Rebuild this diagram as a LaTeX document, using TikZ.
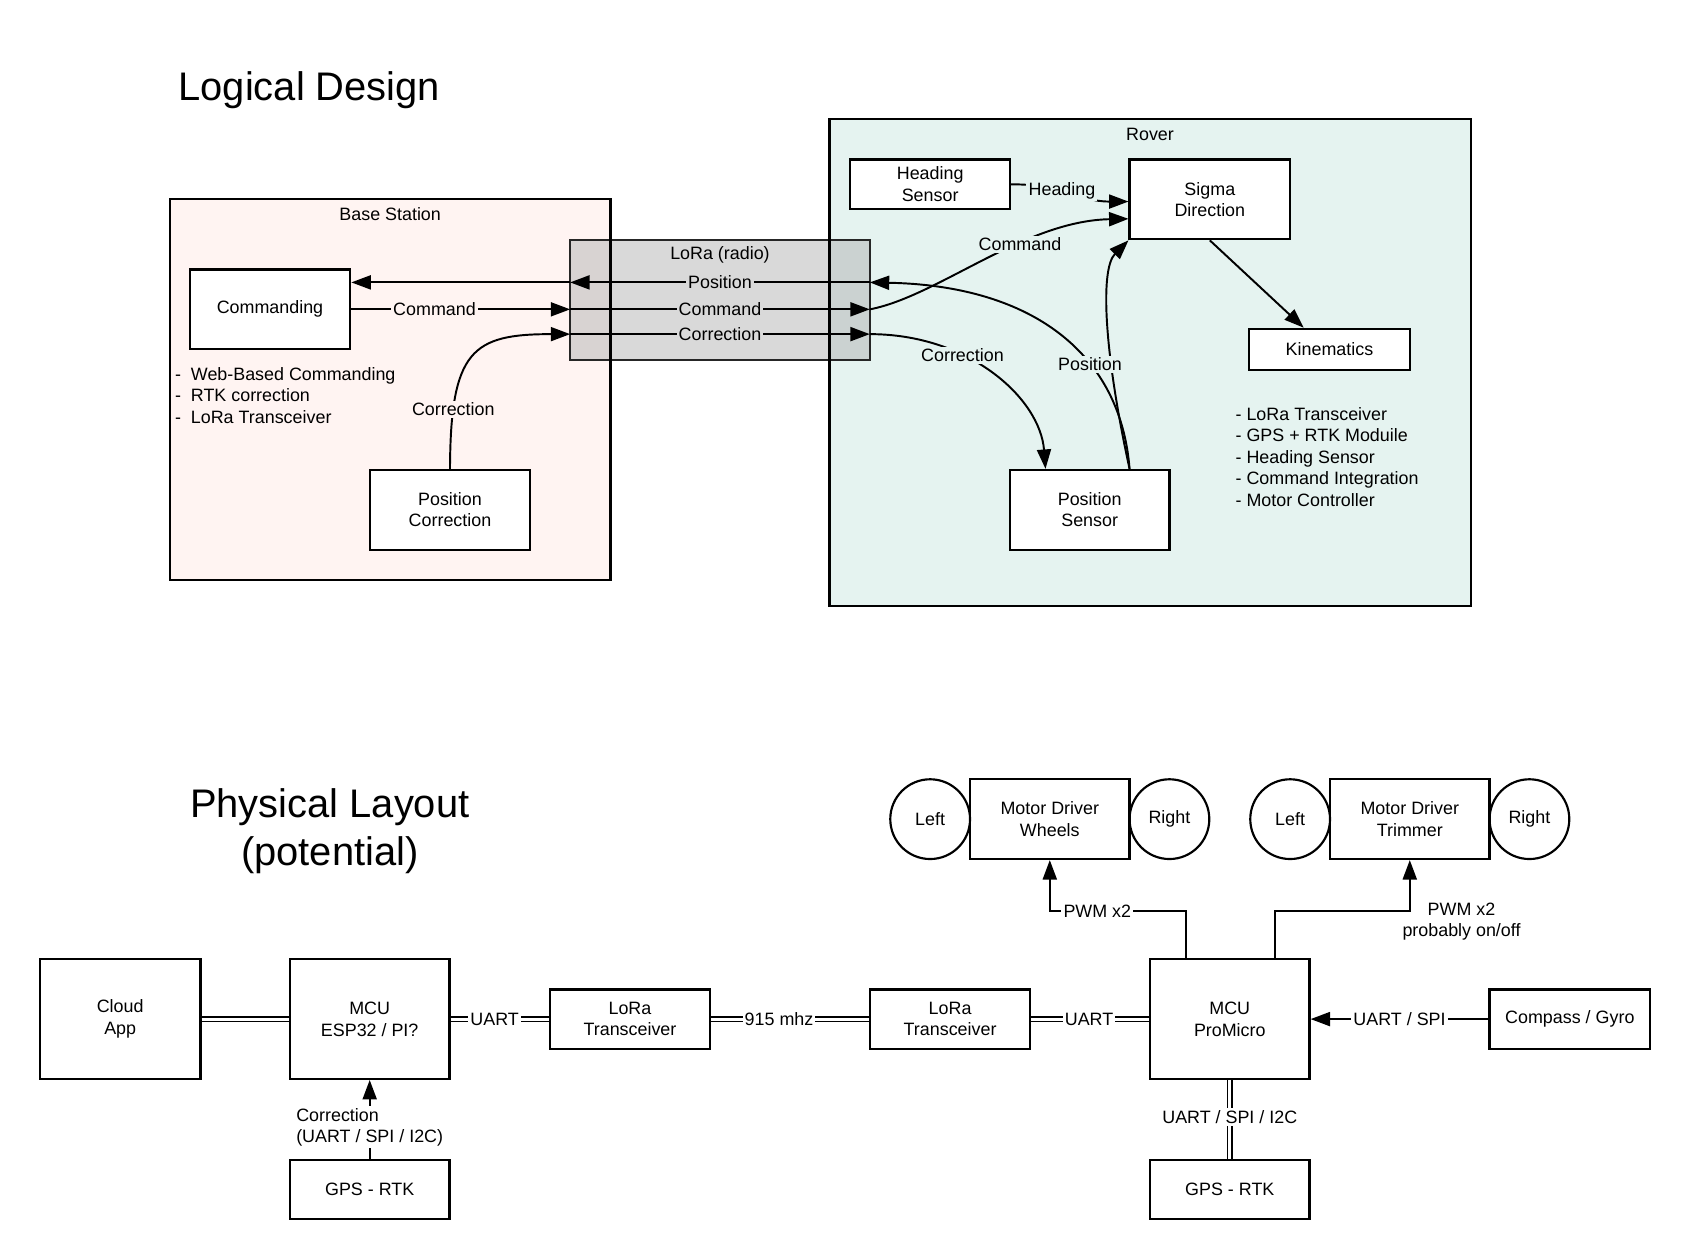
\documentclass[tikz,border=0pt]{standalone}
\usepackage{fontspec}
\setmainfont{Liberation Sans}
\usetikzlibrary{arrows.meta,calc}
\definecolor{basefill}{HTML}{FFF4F2}
\definecolor{roverfill}{HTML}{E5F3F0}
\definecolor{lorafill}{HTML}{B3B3B3}
\definecolor{loralbl}{HTML}{D9D9D9}
\newcommand\lblfont{\fontsize{8.3pt}{10pt}\selectfont}
\newcommand\ttlfont{\fontsize{18.5pt}{22pt}\selectfont}
\tikzset{
  blk/.style={draw=black, line width=1pt, fill=white, align=center, inner sep=1pt, font=\lblfont},
  sz/.style 2 args={minimum width=#1*0.5pt, minimum height=#2*0.5pt},
  arr/.style={line width=0.9pt, -{Triangle[length=9pt,width=6.5pt]}},
  ln/.style={line width=0.9pt},
  dbl/.style={double, double distance=1.4pt, line width=0.8pt},
  lbl/.style={font=\lblfont, inner sep=1pt, fill=#1},
  lbl/.default=white,
  wheel/.style={draw=black, circle, line width=1pt, minimum size=37pt, inner sep=0pt, font=\lblfont}
}
\begin{document}
\begin{tikzpicture}[x=0.5pt,y=-0.5pt]
\useasboundingbox (0,0) rectangle (1568,1169);

% ---------- titles ----------
\node[font=\ttlfont] (t1) at (287,84) {Logical Design};
\node[font=\ttlfont, align=center] (t2) at (306,771) {Physical Layout\\(potential)};

% ---------- containers ----------
\node[fill=basefill, sz={408}{353}, inner sep=0pt] (base) at (362,361.5) {};
\node[fill=roverfill, sz={594}{451}, inner sep=0pt] (rover) at (1067,336.5) {};
\node[draw=black!85, line width=1pt, fill=lorafill, fill opacity=0.5, sz={278}{111}, inner sep=0pt] (lora) at (668,278.5) {};
\draw[line width=1pt] (base.north west) rectangle (base.south east);
\draw[line width=1pt] (rover.north west) rectangle (rover.south east);
\node[font=\lblfont] (basettl) at (362,199) {Base Station};
\node[font=\lblfont] (roverttl) at (1067,125) {Rover};
\node[font=\lblfont] (lorattl) at (668,236) {LoRa (radio)};

% ---------- logical nodes ----------
\node[blk, sz={149}{74}] (cmd) at (250.5,287) {Commanding};
\node[blk, sz={149}{74}] (pc) at (417.5,473) {Position\\Correction};
\node[blk, sz={148}{46}] (hs) at (863,171) {Heading\\Sensor};
\node[blk, sz={149}{74}] (sig) at (1122.5,185) {Sigma\\Direction};
\node[blk, sz={149}{38}] (kin) at (1233.5,324) {Kinematics};
\node[blk, sz={148}{74}] (ps) at (1011,473) {Position\\Sensor};

\node[font=\lblfont, align=left, anchor=west, inner sep=0pt] (bb) at (162,367)
  {-~~Web-Based Commanding\\-~~RTK correction\\-~~LoRa Transceiver};
\node[font=\lblfont, align=left, anchor=west, inner sep=0pt] (rb) at (1146,424)
  {- LoRa Transceiver\\- GPS + RTK Moduile\\- Heading Sensor\\- Command Integration\\- Motor Controller};

\coordinate (pL) at (529,262);
\coordinate (pR) at (807,262);
\coordinate (cL) at (529,287);
\coordinate (cR) at (807,287);
\coordinate (rL) at (529,310);
\coordinate (rR) at (807,310);

% ---------- logical connectors ----------
\draw[arr] (pR) -- node[lbl=loralbl]{Position} (pL);
\draw[arr] (pL) -- (cmd.east |- pL);
\draw[arr] (cmd.east) -- node[lbl=basefill, pos=0.38]{Command} (cL);
\draw[arr] (cL) -- node[lbl=loralbl]{Command} (cR);
\draw[arr] (rL) -- node[lbl=loralbl]{Correction} (rR);
\draw[arr] (pc.north) .. controls (418,325) and (438,310) .. node[lbl=basefill, pos=0.2]{Correction} (rL);

\draw[arr] (cR) .. controls (870,275) and (950,205) .. node[lbl=roverfill, pos=0.63]{Command} ($(sig.west)+(0,18)$);
\draw[arr] (hs.east) .. controls (990,171) and (1000,187) .. node[lbl=roverfill, pos=0.4]{Heading} ($(sig.west)+(0,2)$);
\draw[arr] (rR) .. controls (900,310) and (965,370) .. node[lbl=roverfill, pos=0.35]{Correction} ($(ps.north)+(-41,0)$);
\draw[arr] ($(ps.north)+(37,0)$) .. controls (1025,330) and (1020,250) .. (sig.south west);
\draw[arr] ($(ps.north)+(37,0)$) .. controls (1040,330) and (960,265) .. node[lbl=roverfill, pos=0.36]{Position} (pR);
\draw[arr] (sig.south) -- ($(kin.north)+(-24,0)$);

% ---------- physical nodes ----------
\node[blk, sz={149}{111}] (cloud) at (111.5,945.5) {Cloud\\App};
\node[blk, sz={148}{111}] (mcu1) at (343,945.5) {MCU\\ESP32 / PI?};
\node[blk, sz={149}{55}] (lora1) at (584.5,945.5) {LoRa\\Transceiver};
\node[blk, sz={149}{55}] (lora2) at (881.5,945.5) {LoRa\\Transceiver};
\node[blk, sz={148}{111}] (mcu2) at (1141,945.5) {MCU\\ProMicro};
\node[blk, sz={149}{55}] (comp) at (1456.5,945.5) {Compass / Gyro};
\node[blk, sz={148}{55}] (gps1) at (343,1103.5) {GPS - RTK};
\node[blk, sz={148}{55}] (gps2) at (1141,1103.5) {GPS - RTK};
\node[blk, sz={148}{74}] (mdw) at (974,760) {Motor Driver\\Wheels};
\node[blk, sz={148}{74}] (mdt) at (1308,760) {Motor Driver\\Trimmer};
\node[wheel] (wl) at (863,760) {Left};
\node[wheel] (wr) at (1085,760) {Right};
\node[wheel] (tl) at (1197,760) {Left};
\node[wheel] (tr) at (1419,760) {Right};

% ---------- physical connectors ----------
\draw[dbl] (cloud.east) -- (mcu1.west);
\draw[dbl] (mcu1.east) -- node[lbl, pos=0.45]{UART} (lora1.west);
\draw[dbl] (lora1.east) -- node[lbl, pos=0.43]{915 mhz} (lora2.west);
\draw[dbl] (lora2.east) -- node[lbl, pos=0.49]{UART} (mcu2.west);
\draw[arr] (comp.west) -- node[lbl]{UART / SPI} (mcu2.east);
\draw[dbl] (mcu2.south) -- node[lbl, pos=0.47]{UART / SPI / I2C} (gps2.north);
\draw[arr] (gps1.north) -- node[lbl, pos=0.4, align=left]{Correction\\(UART / SPI / I2C)} (mcu1.south);

\coordinate (pw1) at (974,845);
\coordinate (pw2) at (1308,845);
\draw[arr] ($(mcu2.north)+(-41,0)$) |- node[lbl, pos=0.825]{PWM x2} (pw1) -- (mdw.south);
\draw[arr] ($(mcu2.north)+(42,0)$) |- (pw2) -- (mdt.south);
\node[font=\lblfont, align=center] (pwmt) at (1356,855) {PWM x2\\probably on/off};
\end{tikzpicture}
\end{document}
